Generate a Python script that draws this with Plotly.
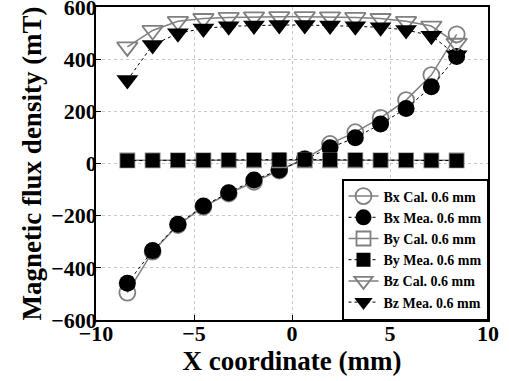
import plotly.graph_objects as go

x_mm = [-8.4, -7.11, -5.82, -4.52, -3.23, -1.94, -0.65, 0.65, 1.94, 3.23, 4.52, 5.82, 7.11, 8.4]

bx_cal = [-495, -338, -236, -166, -115, -70, -27, 18, 75, 120, 175, 243, 339, 495]
bx_mea = [-459, -334, -233, -163, -112, -63, -25, 16, 60, 99, 151, 211, 294, 410]
by_cal = [12, 12, 12, 12, 12, 12, 12, 12, 12, 12, 12, 12, 12, 12]
by_mea = [11, 12, 13, 13, 14, 14, 15, 15, 14, 14, 13, 13, 12, 11]
bz_cal = [447, 510, 545, 556, 560, 562, 563, 563, 562, 560, 556, 545, 527, 461]
bz_mea = [320, 454, 499, 518, 526, 529, 531, 531, 529, 526, 522, 512, 490, 415]

names = ["Bx Cal. 0.6 mm", "Bx Mea. 0.6 mm", "By Cal. 0.6 mm",
         "By Mea. 0.6 mm", "Bz Cal. 0.6 mm", "Bz Mea. 0.6 mm"]

x_ticks = [-10, -5, 0, 5, 10]
y_ticks = [-600, -400, -200, 0, 200, 400, 600]

GRAY = "#808080"
FONT = "Liberation Serif"

def lab(v):
    return "<b>" + str(v).replace("-", "\u2212") + "</b>"

fig = go.Figure()

def cal(y, sym, name, size):
    fig.add_trace(go.Scatter(
        x=x_mm, y=y, name="<b>" + name + "</b>", mode="lines+markers",
        line=dict(color=GRAY, width=1.5),
        marker=dict(symbol=sym, size=size, color=GRAY, line=dict(color=GRAY, width=1.8)),
    ))

def mea(y, sym, name, size):
    fig.add_trace(go.Scatter(
        x=x_mm, y=y, name="<b>" + name + "</b>", mode="lines+markers",
        line=dict(color="black", width=1, dash="dot"),
        marker=dict(symbol=sym, size=size, color="black"),
    ))

cal(bx_cal, "circle-open", names[0], 16)
mea(bx_mea, "circle", names[1], 17)
cal(by_cal, "square-open", names[2], 14)
mea(by_mea, "square", names[3], 14)
cal(bz_cal, "triangle-down-open", names[4], 18)
mea(bz_mea, "triangle-down", names[5], 19)

axis_common = dict(
    showline=True, linecolor="black", linewidth=1.5, mirror=True,
    ticks="inside", ticklen=5, tickcolor="black",
    showgrid=True, gridcolor="#c8c8c8", griddash="dot", gridwidth=1,
    zeroline=False, automargin=False, ticklabeloverflow="allow",
    ticklabelstandoff=-7,
    tickfont=dict(family=FONT, size=22, color="black", weight="bold"),
)

fig.update_layout(
    width=509, height=381,
    margin=dict(l=96, r=21, t=7, b=61),
    paper_bgcolor="white", plot_bgcolor="white",
    font=dict(family=FONT, color="black"),
    xaxis=dict(range=[-10, 10], tickvals=x_ticks, ticktext=[lab(v) for v in x_ticks],
               title=dict(text="<b>X coordinate (mm)</b>", font=dict(family=FONT, size=27), standoff=0),
               **axis_common),
    yaxis=dict(range=[-600, 600], tickvals=y_ticks, ticktext=[lab(v) for v in y_ticks],
               title=dict(text="<b>Magnetic flux density (mT)</b>", font=dict(family=FONT, size=27), standoff=2),
               **axis_common),
    legend=dict(x=1, y=0, xanchor="right", yanchor="bottom",
                bgcolor="white", bordercolor="black", borderwidth=1.5,
                font=dict(family=FONT, size=14),
                itemwidth=30, tracegroupgap=0),
    showlegend=True,
)

fig.write_html("out.html", config={"displayModeBar": False},
               post_script="document.body.style.margin='0px';")
